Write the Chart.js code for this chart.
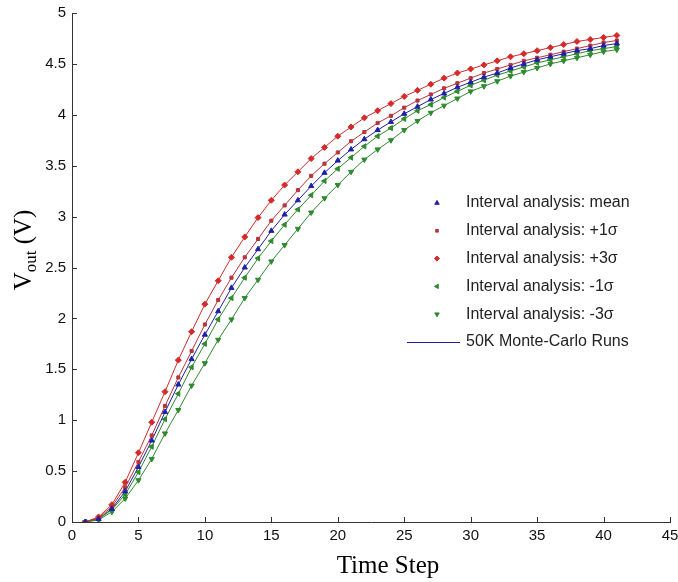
<!DOCTYPE html>
<html>
<head>
<meta charset="utf-8">
<script src="https://cdn.jsdelivr.net/npm/chart.js@4/dist/chart.umd.min.js"></script>
<style>
body{margin:0;background:#fff;}
#wrap{width:678px;height:582px;}
</style>
</head>
<body>
<div id="wrap"><canvas id="vout" width="678" height="582"></canvas></div>
<script>
// x values (time steps) and V_out readings for every series
const timeSteps = [1,2,3,4,5,6,7,8,9,10,11,12,13,14,15,16,17,18,19,20,21,22,23,24,25,26,27,28,29,30,31,32,33,34,35,36,37,38,39,40,41];

const meanV = [0.00,0.03,0.13,0.30,0.54,0.80,1.08,1.35,1.60,1.84,2.07,2.30,2.50,2.68,2.86,3.02,3.16,3.30,3.43,3.55,3.66,3.76,3.85,3.93,4.01,4.08,4.15,4.21,4.27,4.32,4.37,4.41,4.46,4.50,4.54,4.57,4.60,4.63,4.65,4.68,4.70];
const plus1V = [0.00,0.04,0.15,0.34,0.59,0.85,1.14,1.42,1.68,1.94,2.18,2.40,2.60,2.78,2.96,3.11,3.26,3.40,3.52,3.63,3.74,3.83,3.92,3.99,4.07,4.14,4.20,4.26,4.31,4.36,4.41,4.45,4.49,4.53,4.56,4.59,4.62,4.65,4.68,4.71,4.73];
const plus3V = [0.00,0.05,0.17,0.39,0.68,0.98,1.28,1.59,1.87,2.14,2.37,2.60,2.80,2.99,3.16,3.31,3.44,3.57,3.68,3.79,3.88,3.97,4.04,4.11,4.18,4.24,4.30,4.36,4.41,4.45,4.49,4.53,4.57,4.60,4.63,4.66,4.69,4.72,4.74,4.76,4.78];
const minus1V = [0.00,0.03,0.12,0.27,0.49,0.74,1.01,1.26,1.52,1.75,1.99,2.20,2.40,2.59,2.76,2.92,3.07,3.21,3.35,3.47,3.58,3.69,3.79,3.87,3.96,4.04,4.10,4.17,4.23,4.29,4.34,4.39,4.43,4.47,4.51,4.54,4.57,4.60,4.63,4.65,4.67];
const minus3V = [0.00,0.02,0.10,0.23,0.41,0.62,0.87,1.10,1.34,1.56,1.79,1.99,2.20,2.38,2.56,2.72,2.88,3.04,3.18,3.31,3.44,3.56,3.66,3.75,3.85,3.94,4.02,4.09,4.16,4.23,4.28,4.33,4.38,4.42,4.46,4.50,4.53,4.56,4.59,4.62,4.64];
const monteCarloV = [0.00,0.03,0.13,0.30,0.54,0.80,1.08,1.35,1.60,1.84,2.07,2.30,2.50,2.68,2.86,3.02,3.16,3.30,3.43,3.55,3.66,3.76,3.85,3.93,4.01,4.08,4.15,4.21,4.27,4.32,4.37,4.41,4.46,4.50,4.54,4.57,4.60,4.63,4.65,4.68,4.70];

const seriesLabels = [
  'Interval analysis: mean',
  'Interval analysis: +1\u03c3',
  'Interval analysis: +3\u03c3',
  'Interval analysis: -1\u03c3',
  'Interval analysis: -3\u03c3',
  '50K Monte-Carlo Runs'
];

const xTicks = [0,5,10,15,20,25,30,35,40,45];
const yTicks = [0,0.5,1,1.5,2,2.5,3,3.5,4,4.5,5];

const BLUE = '#1f1fa8';
const RED = '#d42a2a';
const DKRED = '#b8343c';
const GREEN = '#2e8a2e';

const SERIF = '"Liberation Serif", "Times New Roman", serif';
const SANS = '"Liberation Sans", Arial, sans-serif';

function pts(vals){
  return timeSteps.map((t,i) => ({x:t, y:vals[i]}));
}

// inward tick marks, axis titles and the legend
const matlabBits = {
  id:'matlabBits',
  afterDatasetsDraw(chart){
    const ctx = chart.ctx;
    const xs = chart.scales.x, ys = chart.scales.y;
    const a = chart.chartArea;
    ctx.save();
    ctx.strokeStyle = '#333';
    ctx.lineWidth = 1;
    ctx.beginPath();
    xTicks.forEach(v => {
      const px = Math.round(xs.getPixelForValue(v)) + 0.5;
      ctx.moveTo(px, a.bottom);
      ctx.lineTo(px, a.bottom - 5);
    });
    yTicks.forEach(v => {
      const py = Math.round(ys.getPixelForValue(v)) + 0.5;
      ctx.moveTo(a.left, py);
      ctx.lineTo(a.left + 5, py);
    });
    ctx.stroke();

    // x title
    ctx.fillStyle = '#000';
    ctx.font = '25px ' + SERIF;
    ctx.textAlign = 'center';
    ctx.textBaseline = 'alphabetic';
    ctx.fillText('Time Step', 388, 573);

    // y title with subscript
    ctx.translate(31, 250);
    ctx.rotate(-Math.PI / 2);
    ctx.textAlign = 'left';
    const big = '25px ' + SERIF;
    const small = '17px ' + SERIF;
    ctx.font = big;
    const wV = ctx.measureText('V').width;
    ctx.font = small;
    const wOut = ctx.measureText('out').width;
    ctx.font = big;
    const wRest = ctx.measureText(' (V)').width;
    let x0 = -(wV + wOut + wRest) / 2;
    ctx.fillText('V', x0, 0);
    ctx.font = small;
    ctx.fillText('out', x0 + wV, 5);
    ctx.font = big;
    ctx.fillText(' (V)', x0 + wV + wOut, 0);
    ctx.restore();

    // legend
    ctx.save();
    ctx.font = '16px ' + SANS;
    ctx.textBaseline = 'middle';
    ctx.textAlign = 'left';
    const rowY0 = 203, rowGap = 27.8;
    chart.data.datasets.forEach((ds, i) => {
      const y = rowY0 + i * rowGap;
      if (ds.legendLine) {
        ctx.strokeStyle = ds.borderColor;
        ctx.lineWidth = 1;
        ctx.beginPath();
        ctx.moveTo(407, y + 0.5);
        ctx.lineTo(460, y + 0.5);
        ctx.stroke();
      } else {
        ctx.fillStyle = ds.pointBackgroundColor;
        ctx.strokeStyle = ds.pointBorderColor;
        Chart.helpers.drawPoint(ctx, {
          pointStyle: ds.pointStyle,
          radius: ds.pointRadius * 0.85,
          rotation: ds.pointRotation || 0,
          borderWidth: 1
        }, 437, y);
      }
      ctx.fillStyle = '#222';
      ctx.fillText(ds.label, 466, y);
    });
    ctx.restore();
  }
};

const ctx = document.getElementById('vout');

new Chart(ctx, {
  type:'line',
  data:{
    datasets:[
      {label:seriesLabels[0], data:pts(meanV), borderColor:BLUE, borderWidth:1, showLine:false,
       pointStyle:'triangle', pointRadius:3, pointBackgroundColor:BLUE, pointBorderColor:BLUE, order:0},
      {label:seriesLabels[1], data:pts(plus1V), borderColor:DKRED, borderWidth:1,
       pointStyle:'rect', pointRadius:2.2, pointBackgroundColor:DKRED, pointBorderColor:DKRED, order:1},
      {label:seriesLabels[2], data:pts(plus3V), borderColor:RED, borderWidth:1,
       pointStyle:'rectRot', pointRadius:3, pointBackgroundColor:RED, pointBorderColor:RED, order:2},
      {label:seriesLabels[3], data:pts(minus1V), borderColor:GREEN, borderWidth:1,
       pointStyle:'triangle', pointRotation:-90, pointRadius:3, pointBackgroundColor:GREEN, pointBorderColor:GREEN, order:3},
      {label:seriesLabels[4], data:pts(minus3V), borderColor:GREEN, borderWidth:1,
       pointStyle:'triangle', pointRotation:180, pointRadius:3, pointBackgroundColor:GREEN, pointBorderColor:GREEN, order:4},
      {label:seriesLabels[5], data:pts(monteCarloV), borderColor:BLUE, borderWidth:1,
       pointRadius:0, legendLine:true, order:5}
    ]
  },
  options:{
    responsive:false,
    animation:false,
    layout:{padding:{left:0, right:8, top:13, bottom:0}},
    plugins:{
      legend:{display:false},
      tooltip:{enabled:false}
    },
    elements:{line:{tension:0}},
    scales:{
      x:{
        type:'linear', min:0, max:45,
        afterFit(s){ s.height = 60; s.paddingRight = 0; s.paddingLeft = 0; },
        afterBuildTicks(s){ s.ticks = xTicks.map(v => ({value:v})); },
        grid:{display:false, drawTicks:false},
        border:{display:true, color:'#333', width:1},
        ticks:{padding:5, color:'#111', font:{family:SANS, size:15}}
      },
      y:{
        type:'linear', min:0, max:5,
        afterFit(s){ s.width = 72; s.paddingTop = 0; s.paddingBottom = 0; },
        afterBuildTicks(s){ s.ticks = yTicks.map(v => ({value:v})); },
        grid:{display:false, drawTicks:false},
        border:{display:true, color:'#333', width:1},
        ticks:{padding:6, color:'#111', font:{family:SANS, size:15},
               callback:v => String(v)}
      }
    }
  },
  plugins:[matlabBits]
});
</script>
</body>
</html>
